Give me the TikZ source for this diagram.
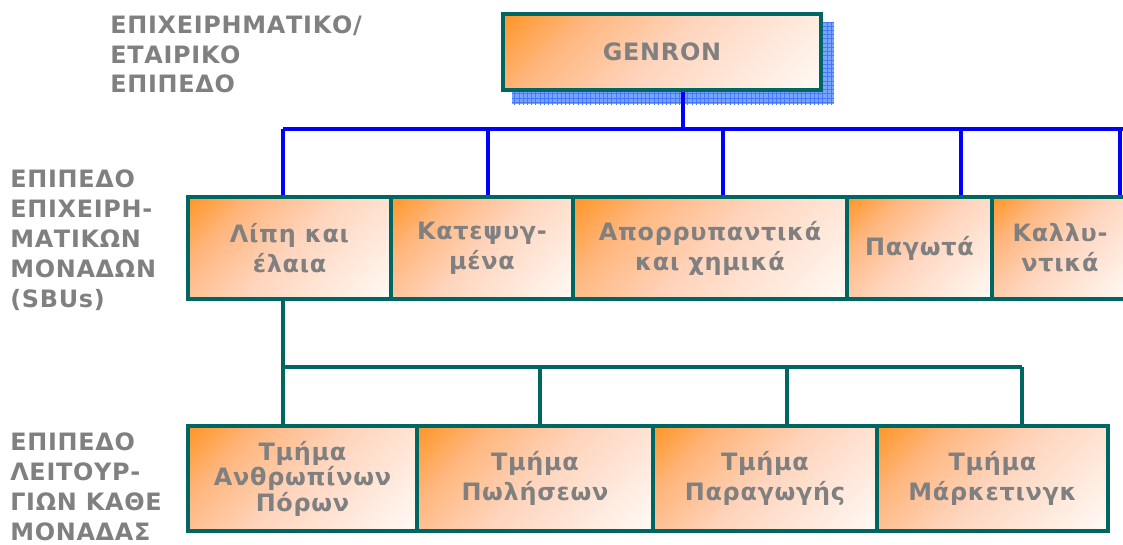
\documentclass[tikz,border=0pt]{standalone}
\usepackage{fontspec}
\setmainfont{DejaVu Sans}[LetterSpace=3]
\usepackage{tikz}
\usetikzlibrary{calc}
\usetikzlibrary{patterns}

\definecolor{tealline}{RGB}{0,102,98}
\definecolor{labelgray}{RGB}{128,128,128}
\definecolor{boxorange}{RGB}{255,150,40}
\definecolor{boxmid}{RGB}{255,182,125}
\definecolor{boxpeach}{RGB}{255,212,188}
\definecolor{boxpale}{RGB}{255,250,246}
\definecolor{shadowblue}{RGB}{120,165,255}
\definecolor{gridblue}{RGB}{70,120,255}

\pgfdeclareverticalshading{unitfade}{100bp}{color(0bp)=(boxpale); color(15bp)=(boxpale);
  color(50bp)=(boxpeach); color(70bp)=(boxmid); color(85bp)=(boxorange); color(100bp)=(boxorange)}

\begin{document}
\begin{tikzpicture}[x=0.025cm,y=-0.025cm,
    unitbox/.style={draw=tealline,line width=2.8pt,shading=unitfade,shading angle=45,
      align=center,inner sep=0pt,text=labelgray,
      font=\bfseries\fontsize{17pt}{21.3pt}\selectfont},
    levellabel/.style={anchor=base west,align=left,inner sep=0pt,text=labelgray,
      font=\bfseries\fontsize{17pt}{21.3pt}\selectfont},
    bluewire/.style={blue,line width=2.8pt},
    tealwire/.style={tealline,line width=2.8pt}]
    \useasboundingbox (0,0) rectangle (1123,545);

    % level labels (anchored on the last line)
    \node [levellabel] (lvlCorp) at (110,93)  {ΕΠΙΧΕΙΡΗΜΑΤΙΚΟ/\\ΕΤΑΙΡΙΚΟ\\ΕΠΙΠΕΔΟ};
    \node [levellabel] (lvlSbu)  at (10,307)  {ΕΠΙΠΕΔΟ\\ΕΠΙΧΕΙΡΗ-\\ΜΑΤΙΚΩΝ\\ΜΟΝΑΔΩΝ\\(SBUs)};
    \node [levellabel] (lvlFunc) at (10,540)  {ΕΠΙΠΕΔΟ\\ΛΕΙΤΟΥΡ-\\ΓΙΩΝ ΚΑΘΕ\\ΜΟΝΑΔΑΣ};

    % corporate box with its shadow
    \fill [shadowblue] (512,23) rectangle (834,104);
    \fill [pattern=grid,pattern color=gridblue] (512,23) rectangle (834,104);
    \node [unitbox,minimum width=318*0.025cm,minimum height=76*0.025cm] (genron) at (662,52) {GENRON};

    % business units
    \node [unitbox,minimum width=203*0.025cm,minimum height=102*0.025cm] (sbuOil)    at (289.5,248) {Λίπη και\\έλαια};
    \node [unitbox,minimum width=182*0.025cm,minimum height=102*0.025cm] (sbuFrozen) at (482,248)   {Κατεψυγ-\\μένα};
    \node [unitbox,minimum width=274*0.025cm,minimum height=102*0.025cm] (sbuDeterg) at (710,248)   {Απορρυπαντικά\\και χημικά};
    \node [unitbox,minimum width=145*0.025cm,minimum height=102*0.025cm] (sbuIce)    at (919.5,248) {Παγωτά};
    \node [unitbox,minimum width=136*0.025cm,minimum height=102*0.025cm] (sbuCosm)   at (1060,248)  {Καλλυ-\\ντικά};

    % departments
    \node [unitbox,minimum width=229*0.025cm,minimum height=105*0.025cm,
      font=\bfseries\fontsize{17pt}{16.8pt}\selectfont] (dpHr) at (302.5,478.5) {Τμήμα\\Ανθρωπίνων\\Πόρων};
    \node [unitbox,minimum width=236*0.025cm,minimum height=105*0.025cm] (dpSales) at (535,478.5)   {Τμήμα\\Πωλήσεων};
    \node [unitbox,minimum width=224*0.025cm,minimum height=105*0.025cm] (dpProd)  at (765,478.5)   {Τμήμα\\Παραγωγής};
    \node [unitbox,minimum width=231*0.025cm,minimum height=105*0.025cm] (dpMkt)   at (992.5,478.5) {Τμήμα\\Μάρκετινγκ};

    % blue bus
    \coordinate (trunk) at (683,129);
    \coordinate (bOil) at (283,129);
    \coordinate (bFrozen) at (488,129);
    \coordinate (bDeterg) at (723,129);
    \coordinate (bIce) at (961,129);
    \coordinate (bCosm) at (1120,129);
    \coordinate (bEnd) at (1125,129);
    \draw [bluewire] (trunk |- genron.south) -- (trunk);
    \draw [bluewire] (bOil) -- (bEnd);
    \draw [bluewire] (bOil) -- (bOil |- sbuOil.north);
    \draw [bluewire] (bFrozen) -- (bFrozen |- sbuFrozen.north);
    \draw [bluewire] (bDeterg) -- (bDeterg |- sbuDeterg.north);
    \draw [bluewire] (bIce) -- (bIce |- sbuIce.north);
    \draw [bluewire] (bCosm) -- (bCosm |- sbuCosm.north);

    % teal bus
    \coordinate (tHr) at (283,367);
    \coordinate (tSales) at (540,367);
    \coordinate (tProd) at (787,367);
    \coordinate (tMkt) at (1022,367);
    \draw [tealwire] (tHr |- sbuOil.south) -- (tHr) -- (tMkt);
    \draw [tealwire] (tHr) -- (tHr |- dpHr.north);
    \draw [tealwire] (tSales) -- (tSales |- dpSales.north);
    \draw [tealwire] (tProd) -- (tProd |- dpProd.north);
    \draw [tealwire] (tMkt) -- (tMkt |- dpMkt.north);

  \end{tikzpicture}
\end{document}
